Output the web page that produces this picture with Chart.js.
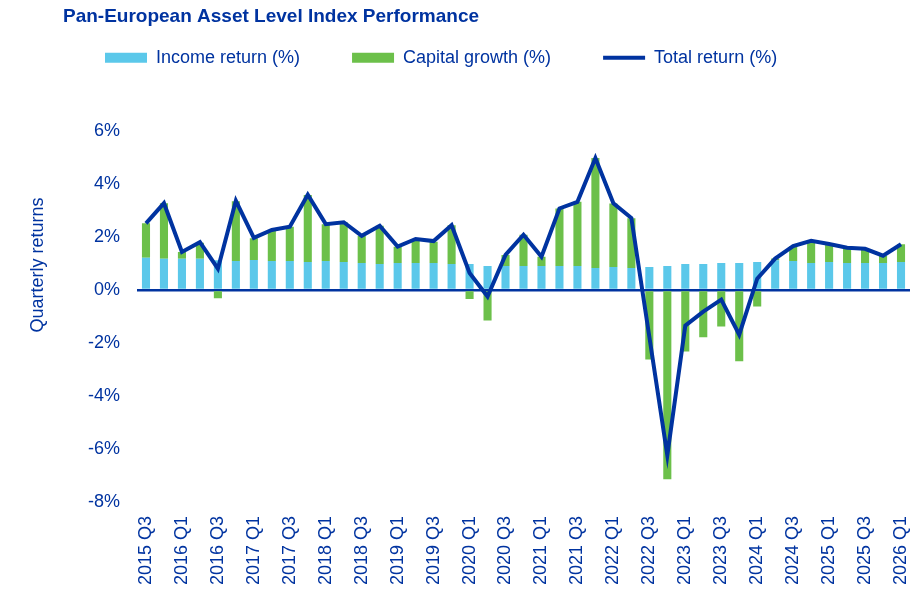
<!DOCTYPE html>
<html>
<head>
<meta charset="utf-8">
<script src="https://cdn.jsdelivr.net/npm/chart.js@4.4.1/dist/chart.umd.min.js"></script>
<style>
  html, body { margin: 0; padding: 0; background: #fff; }
  #wrap { width: 914px; height: 602px; }
</style>
</head>
<body>
<div id="wrap"><canvas id="perfChart" width="914" height="602"></canvas></div>
<script>
const quarters = [
  '2015 Q3', '2015 Q4',
  '2016 Q1', '2016 Q2', '2016 Q3', '2016 Q4',
  '2017 Q1', '2017 Q2', '2017 Q3', '2017 Q4',
  '2018 Q1', '2018 Q2', '2018 Q3', '2018 Q4',
  '2019 Q1', '2019 Q2', '2019 Q3', '2019 Q4',
  '2020 Q1', '2020 Q2', '2020 Q3', '2020 Q4',
  '2021 Q1', '2021 Q2', '2021 Q3', '2021 Q4',
  '2022 Q1', '2022 Q2', '2022 Q3', '2022 Q4',
  '2023 Q1', '2023 Q2', '2023 Q3', '2023 Q4',
  '2024 Q1', '2024 Q2', '2024 Q3', '2024 Q4',
  '2025 Q1', '2025 Q2', '2025 Q3', '2025 Q4',
  '2026 Q1'
];

// values, in %
const incomeReturn = [
  1.21, 1.17,
  1.17, 1.17, 1.12, 1.09,
  1.13, 1.09, 1.09, 1.05,
  1.09, 1.05, 1.01, 0.98,
  1.01, 1.01, 1.01, 0.98,
  0.98, 0.90, 0.90, 0.90,
  0.90, 0.90, 0.90, 0.83,
  0.86, 0.83, 0.86, 0.90,
  0.98, 0.98, 1.01, 1.01,
  1.05, 1.12, 1.09, 1.01,
  1.05, 1.01, 1.01, 1.01,
  1.05
];

const capitalGrowth = [
  1.30, 2.10,
  0.26, 0.61, -0.32, 2.25,
  0.82, 1.16, 1.29, 2.53,
  1.39, 1.50, 1.02, 1.44,
  0.62, 0.89, 0.81, 1.46,
  -0.34, -1.15, 0.42, 1.18,
  0.35, 2.17, 2.42, 4.14,
  2.40, 1.87, -2.63, -7.14,
  -2.32, -1.79, -1.38, -2.69,
  -0.63, 0.06, 0.56, 0.84,
  0.67, 0.57, 0.53, 0.27,
  0.67
];

const totalReturn = [
  2.51, 3.27,
  1.43, 1.80, 0.80, 3.36,
  1.96, 2.26, 2.38, 3.59,
  2.48, 2.55, 2.04, 2.42,
  1.63, 1.92, 1.84, 2.44,
  0.64, -0.25, 1.32, 2.08,
  1.25, 3.07, 3.32, 4.97,
  3.27, 2.71, -1.77, -6.24,
  -1.35, -0.82, -0.37, -1.69,
  0.42, 1.18, 1.65, 1.85,
  1.73, 1.59, 1.55, 1.29,
  1.72
];

const yTicks = [-8, -6, -4, -2, 0, 2, 4, 6];

const navy = '#0033a0';
const font = 'Liberation Sans, Arial, sans-serif';

// y axis title sits above the plot centre in the original, so draw it by hand
const yTitle = {
  id: 'yTitle',
  afterDraw(chart) {
    const c = chart.ctx;
    c.save();
    c.translate(38, 265);
    c.rotate(-Math.PI / 2);
    c.fillStyle = navy;
    c.font = '18px ' + font;
    c.textAlign = 'center';
    c.textBaseline = 'middle';
    c.fillText('Quarterly returns', 0, 0);
    c.restore();
  }
};

// legend padding also pushes the items down, pull the box back up
const legendNudge = {
  id: 'legendNudge',
  afterLayout(chart) {
    const lg = chart.legend;
    lg.top -= 54; lg.bottom -= 54;
    lg.left -= 10; lg.right -= 10;
  }
};

new Chart(document.getElementById('perfChart'), {
  type: 'bar',
  data: {
    labels: quarters,
    datasets: [
      {
        label: 'Income return (%)',
        data: incomeReturn,
        backgroundColor: '#5bc8ea',
        stack: 'parts',
        order: 1
      },
      {
        label: 'Capital growth (%)',
        data: capitalGrowth,
        backgroundColor: '#6cc04a',
        stack: 'parts',
        order: 1
      },
      {
        type: 'line',
        label: 'Total return (%)',
        data: totalReturn,
        borderColor: navy,
        backgroundColor: navy,
        borderWidth: 4,
        pointRadius: 0,
        tension: 0,
        stack: 'total',
        order: -1
      }
    ]
  },
  options: {
    responsive: false,
    animation: false,
    layout: { padding: { left: 63, right: 4, top: 4, bottom: 0 } },
    datasets: {
      bar: { categoryPercentage: 1, barPercentage: 0.45 }
    },
    plugins: {
      title: {
        display: true,
        text: 'Pan-European Asset Level Index Performance',
        align: 'start',
        color: navy,
        font: { family: font, size: 19, weight: 'bold' },
        padding: { top: 1, bottom: 23 }
      },
      legend: {
        position: 'top',
        align: 'start',
        labels: {
          color: navy,
          font: { family: font, size: 18 },
          usePointStyle: true,
          pointStyleWidth: 42,
          boxHeight: 10,
          padding: 52,
          sort: (a, b) => a.datasetIndex - b.datasetIndex,
          generateLabels(chart) {
            const items = Chart.defaults.plugins.legend.labels.generateLabels(chart);
            items.forEach(it => {
              it.pointStyle = it.datasetIndex === 2 ? 'line' : 'rect';
            });
            return items;
          }
        }
      },
      tooltip: { enabled: false }
    },
    scales: {
      x: {
        stacked: true,
        grid: { display: false },
        border: { display: false },
        afterFit: s => { s.height = 100; s.paddingLeft = 0; s.paddingRight = 0; },
        ticks: {
          autoSkip: false,
          minRotation: 90,
          maxRotation: 90,
          padding: 6,
          color: navy,
          font: { family: font, size: 18 },
          callback: (v, i) => i % 2 === 0 ? quarters[i] : ''
        }
      },
      y: {
        stacked: true,
        min: yTicks[0],
        max: yTicks[yTicks.length - 1],
        afterFit: s => { s.width = 74; },
        afterBuildTicks: s => { s.ticks = yTicks.map(v => ({ value: v })); },
        border: { display: false },
        grid: {
          drawTicks: false,
          color: c => c.tick && c.tick.value === 0 ? navy : 'rgba(0,0,0,0)',
          lineWidth: 2.5
        },
        ticks: {
          padding: 17,
          color: navy,
          font: { family: font, size: 18 },
          callback: v => v + '%'
        }
      }
    }
  },
  plugins: [yTitle, legendNudge]
});
</script>
</body>
</html>
